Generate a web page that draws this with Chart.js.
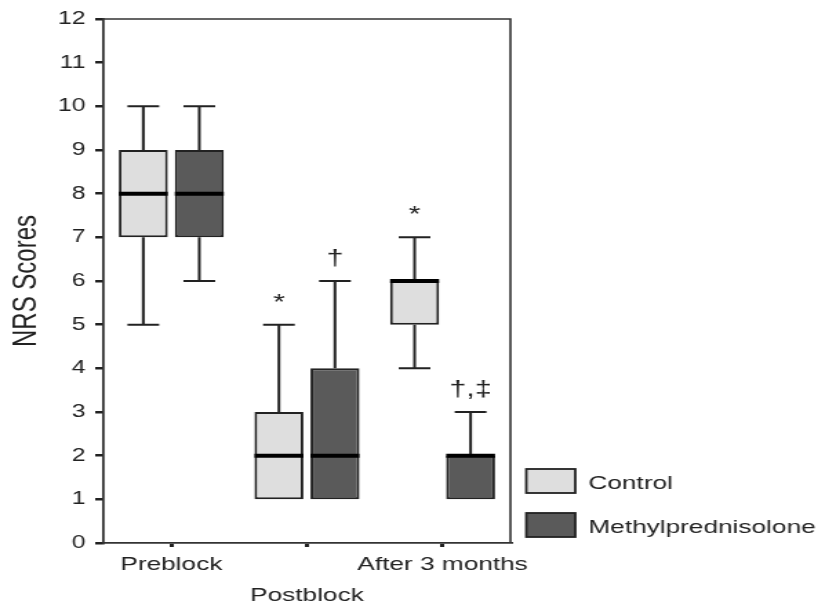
<!DOCTYPE html>
<html>
<head>
<meta charset="utf-8">
<script src="https://cdn.jsdelivr.net/npm/chart.js@4.4.1/dist/chart.umd.min.js"></script>
<style>
  html, body { margin: 0; padding: 0; background: #fff; overflow: hidden; }
  /* the source figure is stretched sideways, so the chart is drawn narrower and widened */
  #wrap { position: relative; width: 606px; height: 609px; transform: scaleX(1.3795); transform-origin: 0 0; }
</style>
</head>
<body>
<div id="wrap"><canvas id="nrsChart"></canvas></div>
<script>
// Groups on the x axis
const categories = ["Preblock", "Postblock", "After 3 months"];

// Control group box plot values
const controlMin = [5, 1, 4];
const controlQ1 = [7, 1, 5];
const controlMedian = [8, 2, 6];
const controlQ3 = [9, 3, 6];
const controlMax = [10, 5, 7];
const controlMarks = ["", "*", "*"];

// Methylprednisolone group box plot values
const methMin = [6, 1, 1];
const methQ1 = [7, 1, 1];
const methMedian = [8, 2, 2];
const methQ3 = [9, 4, 2];
const methMax = [10, 6, 3];
const methMarks = ["", "\u2020", "\u2020,\u2021"];

const yTicks = [0, 1, 2, 3, 4, 5, 6, 7, 8, 9, 10, 11, 12];

const FONT = "'Liberation Sans', Arial, sans-serif";
const INK = "#222";

// Whiskers, medians and significance marks on top of the floating bars
const boxPlotExtras = {
  id: "boxPlotExtras",
  afterDatasetsDraw(chart) {
    const ctx = chart.ctx;
    const y = chart.scales.y;
    chart.data.datasets.forEach((ds, di) => {
      const meta = chart.getDatasetMeta(di);
      meta.data.forEach((bar, i) => {
        const x = bar.x;
        const half = bar.width / 2;
        const cap = 11.5;
        ctx.save();
        ctx.strokeStyle = INK;
        ctx.lineWidth = 2;
        // upper whisker
        if (ds.max[i] > ds.q3[i]) {
          ctx.beginPath();
          ctx.moveTo(x, y.getPixelForValue(ds.q3[i]));
          ctx.lineTo(x, y.getPixelForValue(ds.max[i]));
          ctx.moveTo(x - cap, y.getPixelForValue(ds.max[i]));
          ctx.lineTo(x + cap, y.getPixelForValue(ds.max[i]));
          ctx.stroke();
        }
        // lower whisker
        if (ds.min[i] < ds.q1[i]) {
          ctx.beginPath();
          ctx.moveTo(x, y.getPixelForValue(ds.q1[i]));
          ctx.lineTo(x, y.getPixelForValue(ds.min[i]));
          ctx.moveTo(x - cap, y.getPixelForValue(ds.min[i]));
          ctx.lineTo(x + cap, y.getPixelForValue(ds.min[i]));
          ctx.stroke();
        }
        // median
        ctx.strokeStyle = "#000";
        ctx.lineWidth = 4;
        ctx.beginPath();
        ctx.moveTo(x - half, y.getPixelForValue(ds.median[i]));
        ctx.lineTo(x + half, y.getPixelForValue(ds.median[i]));
        ctx.stroke();
        // significance marks
        if (ds.marks[i]) {
          ctx.fillStyle = INK;
          ctx.font = "22px " + FONT;
          ctx.textAlign = "center";
          ctx.textBaseline = "alphabetic";
          ctx.fillText(ds.marks[i], x, y.getPixelForValue(ds.max[i]) - 16);
        }
        ctx.restore();
      });
    });
  },
  afterDraw(chart) {
    const ctx = chart.ctx;
    const area = chart.chartArea;
    ctx.save();
    // top and right frame lines
    ctx.strokeStyle = "#333";
    ctx.lineWidth = 1.6;
    ctx.beginPath();
    ctx.moveTo(area.left, area.top);
    ctx.lineTo(area.right, area.top);
    ctx.lineTo(area.right, area.bottom);
    ctx.stroke();

    // y axis title
    ctx.fillStyle = INK;
    ctx.font = "24px " + FONT;
    ctx.textAlign = "center";
    ctx.textBaseline = "middle";
    ctx.translate(19, (area.top + area.bottom) / 2);
    ctx.rotate(-Math.PI / 2);
    ctx.fillText("NRS Scores", 0, 0);
    ctx.restore();

    // legend
    ctx.save();
    const boxX = 381.5;
    const boxW = 35.5;
    const boxH = 24;
    const rows = [469, 513];
    chart.data.datasets.forEach((ds, di) => {
      const top = rows[di];
      ctx.fillStyle = ds.backgroundColor;
      ctx.fillRect(boxX, top, boxW, boxH);
      ctx.strokeStyle = INK;
      ctx.lineWidth = 1.8;
      ctx.strokeRect(boxX, top, boxW, boxH);
      ctx.fillStyle = INK;
      ctx.font = "19px " + FONT;
      ctx.textAlign = "left";
      ctx.textBaseline = "alphabetic";
      ctx.fillText(ds.label, 426.5, top + 20);
    });
    ctx.restore();
  }
};

const ctx = document.getElementById("nrsChart").getContext("2d");
new Chart(ctx, {
  type: "bar",
  data: {
    labels: categories,
    datasets: [
      {
        label: "Control",
        data: categories.map((c, i) => [controlQ1[i], controlQ3[i]]),
        min: controlMin, q1: controlQ1, median: controlMedian, q3: controlQ3, max: controlMax,
        marks: controlMarks,
        backgroundColor: "#dedede",
        borderColor: INK,
        borderWidth: 2,
        borderSkipped: false
      },
      {
        label: "Methylprednisolone",
        data: categories.map((c, i) => [methQ1[i], methQ3[i]]),
        min: methMin, q1: methQ1, median: methMedian, q3: methQ3, max: methMax,
        marks: methMarks,
        backgroundColor: "#5a5a5a",
        borderColor: INK,
        borderWidth: 2,
        borderSkipped: false
      }
    ]
  },
  options: {
    responsive: true,
    maintainAspectRatio: false,
    animation: false,
    categoryPercentage: 0.826,
    barPercentage: 0.874,
    layout: { padding: { top: 19, right: 236, bottom: 0, left: 0 } },
    plugins: {
      legend: { display: false },
      tooltip: { enabled: false }
    },
    scales: {
      x: {
        offset: true,
        afterFit(scale) { scale.height = 66; },
        border: { display: true, color: "#333", width: 1.8 },
        grid: { display: true, offset: false, drawOnChartArea: false, drawTicks: true, tickLength: 4, color: INK, lineWidth: 3 },
        ticks: {
          color: INK,
          font: { family: FONT, size: 19, lineHeight: 1.6 },
          padding: 3,
          maxRotation: 0,
          autoSkip: false,
          callback(value, index) {
            // middle label sits on a second row, as in the figure
            return index === 1 ? ["", categories[index]] : categories[index];
          }
        }
      },
      y: {
        min: 0,
        max: 12,
        afterFit(scale) { scale.width = 75; },
        afterBuildTicks(scale) { scale.ticks = yTicks.map(v => ({ value: v })); },
        border: { display: true, color: "#333", width: 1.8 },
        grid: { display: true, drawOnChartArea: false, drawTicks: true, tickLength: 6, color: INK, lineWidth: 2.5 },
        ticks: {
          color: INK,
          font: { family: FONT, size: 18 },
          padding: 7
        }
      }
    }
  },
  plugins: [boxPlotExtras]
});
</script>
</body>
</html>
